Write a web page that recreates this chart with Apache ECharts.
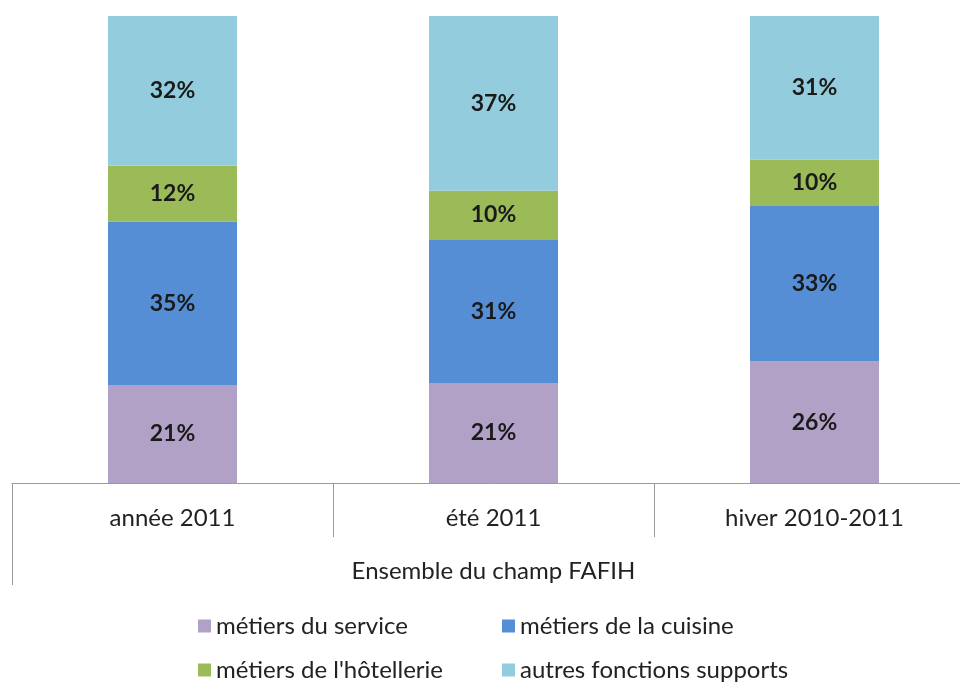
<!DOCTYPE html>
<html>
<head>
<meta charset="utf-8">
<script src="https://cdn.jsdelivr.net/npm/echarts@6/dist/echarts.min.js"></script>
<style>
    html, body { margin: 0; padding: 0; background: #fff; overflow: hidden; }
    /* le graphique déborde un peu à droite, comme l'original */
    #chart { width: 975px; height: 686px; }
</style>
</head>
<body>
<div id="chart"></div>
<script>
    // catégories et valeurs (en %)
    const categories = ['année 2011', 'été 2011', 'hiver 2010-2011'];
    const groupLabel = ['Ensemble du champ FAFIH'];
    const service = [21, 21.4, 26];
    const cuisine = [35, 30.8, 33.3];
    const hotellerie = [12, 10.4, 9.9];
    const supports = [32, 37.4, 30.8];
    const seriesNames = ['métiers du service', 'métiers de la cuisine', "métiers de l'hôtellerie", 'autres fonctions supports'];
    const colors = ['#b2a1c7', '#558ed5', '#9bbb59', '#93cddd'];

    const font = 'Lato, "Open Sans", sans-serif';
    let myChart = echarts.init(document.getElementById('chart'));

    let makeSeries = (name, data) => ({
        name: name,
        type: 'bar',
        stack: 'total',
        barWidth: 129,
        data: data,
        label: {
            show: true,
            position: 'inside',
            fontFamily: font,
            fontSize: 23,
            fontWeight: 'bold',
            color: '#1a1a1a',
            formatter: p => Math.round(p.value) + '%'
        }
    });

    // une légende par élément pour garder les colonnes alignées
    let legendPos = [[193, 609], [497, 609], [193, 653], [497, 653]];
    let legends = seriesNames.map((n, i) => ({
        data: [n],
        left: legendPos[i][0],
        top: legendPos[i][1],
        icon: 'rect',
        itemWidth: 13,
        itemHeight: 13,
        itemGap: 0,
        textStyle: { fontFamily: font, fontSize: 24, color: '#222' }
    }));

    let option = {
        animation: false,
        color: colors,
        grid: { left: 12, right: 0, top: 16, bottom: 203, containLabel: false },
        legend: legends,
        xAxis: [
            {
                type: 'category',
                data: categories,
                axisLine: { show: true, lineStyle: { color: '#9a9a9a', width: 1 } },
                axisTick: { show: true, length: 54, lineStyle: { color: '#9a9a9a' } },
                axisLabel: { fontFamily: font, fontSize: 24, color: '#222', margin: 23 }
            },
            {
                type: 'category',
                position: 'bottom',
                offset: 54,
                data: groupLabel,
                axisLine: { show: false },
                axisTick: { show: true, length: 48, lineStyle: { color: '#9a9a9a' } },
                axisLabel: { fontFamily: font, fontSize: 24, color: '#222', margin: 22 }
            }
        ],
        yAxis: {
            type: 'value',
            min: 0,
            max: 100,
            show: false,
            splitLine: { show: false }
        },
        series: [
            makeSeries(seriesNames[0], service),
            makeSeries(seriesNames[1], cuisine),
            makeSeries(seriesNames[2], hotellerie),
            makeSeries(seriesNames[3], supports)
        ]
    };
    myChart.setOption(option);
</script>
</body>
</html>
